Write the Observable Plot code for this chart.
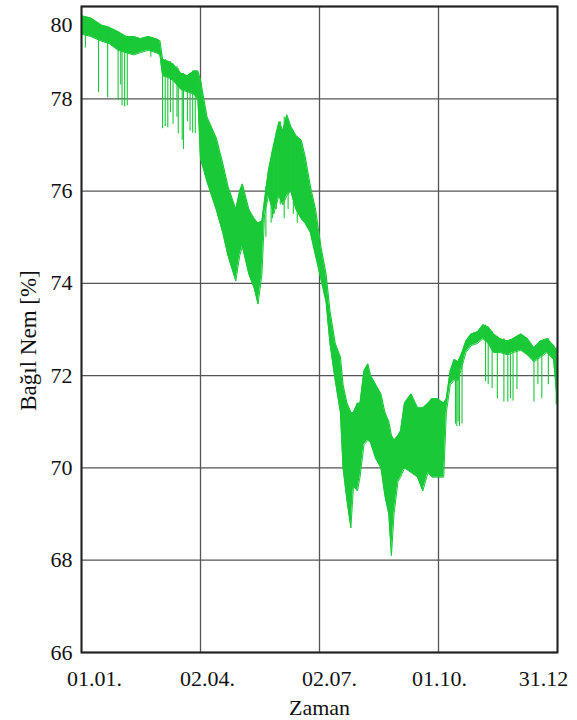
<!DOCTYPE html>
<html><head><meta charset="utf-8">
<script src="https://cdn.jsdelivr.net/npm/d3@7"></script>
<script src="https://cdn.jsdelivr.net/npm/@observablehq/plot@0.6"></script>
<style>
body{margin:0;background:#fff}
#chart svg, #chart svg text { font-family: "Liberation Serif", "Times New Roman", serif !important; }
</style>
</head><body><div id="chart"></div>
<script>
const xTicks = [0, 91, 182, 273, 364];
const xTickLabels = ["01.01.", "02.04.", "02.07.", "01.10.", "31.12"];
const yTicks = [66, 68, 70, 72, 74, 76, 78, 80];
const xTitle = "Zaman";
const yTitle = "Bağıl Nem [%]";

// Day of year, upper and lower edge of the dense humidity band
const bandDay = [0,7,15,21,28,34,40,45,51,57,60,62,67,70,76,81,86,89,91,96,103,108,112,118,121,123,128,132,135,138,140,143,147,151,154,157,160,164,168,171,175,179,183,187,190,194,198,200,203,206,208,211,213,216,219,221,225,229,232,235,237,239,242,244,247,252,257,261,265,268,272,277,279,282,285,288,291,294,298,303,307,311,315,320,326,330,336,341,346,351,356,361,364];
const bandHigh = [79.8,79.75,79.6,79.55,79.45,79.35,79.35,79.3,79.35,79.3,79.25,78.85,78.8,78.75,78.55,78.5,78.6,78.6,78.4,77.6,77.15,76.6,76.1,75.6,76.0,76.15,75.6,75.4,75.3,75.35,75.8,76.45,77.0,77.5,77.3,77.65,77.4,77.2,77.1,76.75,76.1,75.6,74.8,74.2,73.4,72.7,72.4,71.8,71.4,71.2,71.2,71.4,71.4,72.1,72.25,72.0,71.8,71.6,71.2,71.0,70.7,70.6,70.7,70.8,71.4,71.6,71.3,71.3,71.4,71.5,71.5,71.4,71.5,72.1,72.35,72.3,72.5,72.75,72.9,72.95,73.1,73.05,72.9,72.8,72.75,72.8,72.9,72.8,72.6,72.75,72.8,72.65,72.5];
const bandLow = [79.4,79.35,79.25,79.2,79.05,79.0,78.95,79.0,79.05,79.0,78.95,78.5,78.45,78.4,78.2,78.15,78.1,78.0,76.7,76.2,75.6,75.1,74.6,74.05,74.6,74.8,74.2,73.9,73.55,74.2,75.5,75.9,75.5,75.9,75.7,75.9,76.0,75.6,75.4,75.3,75.1,74.6,74.1,73.6,72.7,71.9,71.2,70.0,69.3,68.7,69.6,69.5,69.8,70.5,70.6,70.55,70.2,70.0,69.4,69.0,68.1,69.0,69.7,69.8,70.0,69.9,69.8,69.5,69.9,69.8,69.8,69.8,71.2,71.8,71.9,71.9,72.2,72.5,72.65,72.7,72.8,72.7,72.5,72.5,72.45,72.5,72.55,72.45,72.3,72.4,72.5,72.35,71.4];

// Isolated downward spikes: day, top value, bottom value
const spikeDay = [3,13,20,28,30,31,33,35,53,62,64,66,68,70,73,74,77,78,81,83,85,87,141,145,146,149,152,155,158,162,165,286,287,288,289,291,309,311,314,318,323,326,328,330,333,346,349,352,357,363];
const spikeTop = [79.7,79.6,79.55,79.45,79.4,79.4,79.35,79.35,79.3,78.85,78.85,78.8,78.8,78.75,78.7,78.65,78.55,78.55,78.5,78.55,78.6,78.6,76.1,76.7,76.9,77.3,77.5,77.6,77.55,77.3,77.15,72.3,72.3,72.3,72.35,72.45,73.1,73.05,72.95,72.85,72.8,72.75,72.78,72.8,72.85,72.6,72.65,72.7,72.8,72.6];
const spikeLow = [79.1,78.13,78.02,77.96,78.3,77.85,77.83,77.85,78.9,77.35,77.4,77.37,77.7,77.45,77.6,77.24,77.1,76.9,77.5,77.3,77.26,77.25,75.0,75.3,75.4,75.6,75.7,75.4,75.6,75.5,75.3,70.95,70.9,71.0,70.9,70.95,71.87,71.8,71.72,71.5,71.43,71.43,71.5,71.45,71.7,71.43,71.8,71.5,71.8,71.37];

const band = bandDay.map((d, i) => ({day: d, hi: bandHigh[i], lo: bandLow[i]}));
const spikes = spikeDay.map((d, i) => ({day: d, top: spikeTop[i], low: spikeLow[i]}));

const green = "#19c937";
const gridColor = "#555";
const serif = "Liberation Serif";
const labelDx = [13, 7, 10, 1, -14];

const xLabelMarks = xTicks.map((t, i) =>
  Plot.text([i], {x: j => xTicks[j], text: j => xTickLabels[j], frameAnchor: "bottom",
    lineAnchor: "middle", textAnchor: "middle",
    dy: 26, dx: labelDx[i], fontSize: 22, fontFamily: serif, fill: "#111"}));

const chart = Plot.plot({
  width: 577,
  height: 720,
  marginLeft: 81,
  marginRight: 20,
  marginTop: 6,
  marginBottom: 68,
  style: {fontSize: "22px", background: "#fff", color: "#111"},
  x: {domain: [0, 364], axis: null},
  y: {domain: [66, 80], axis: null},
  marks: [
    Plot.gridX(xTicks, {stroke: gridColor, strokeOpacity: 1, strokeWidth: 1.3}),
    Plot.gridY(yTicks, {stroke: gridColor, strokeOpacity: 1, strokeWidth: 1.3}),
    Plot.areaY(band, {x: "day", y1: "lo", y2: "hi", fill: green}),
    Plot.line(band, {x: "day", y: "hi", stroke: green, strokeWidth: 1.2}),
    Plot.line(band, {x: "day", y: "lo", stroke: green, strokeWidth: 1}),
    Plot.ruleX(spikes, {x: "day", y1: "low", y2: "top", stroke: green, strokeWidth: 1.1}),
    Plot.frame({stroke: "#222", strokeWidth: 2}),
    Plot.axisY(yTicks.filter(t => t < 80), {tickSize: 0, tickPadding: 9, fontSize: 22, fontFamily: serif, fill: "#111"}),
    Plot.text(yTicks.filter(t => t === 80), {x: 0, y: d => d, dx: -9, dy: 18, textAnchor: "end", fontSize: 22, fontFamily: serif, fill: "#111"}),
    ...xLabelMarks,
    Plot.text([xTitle], {frameAnchor: "bottom", lineAnchor: "middle", textAnchor: "middle", dy: 55, fontSize: 22, fontFamily: serif, fill: "#111"}),
    Plot.text([yTitle], {frameAnchor: "left", lineAnchor: "middle", textAnchor: "middle", dx: -53, dy: 11, rotate: -90, fontSize: 23, fontFamily: serif, fill: "#111"})
  ]
});
document.getElementById("chart").appendChild(chart);
</script>
</body></html>
